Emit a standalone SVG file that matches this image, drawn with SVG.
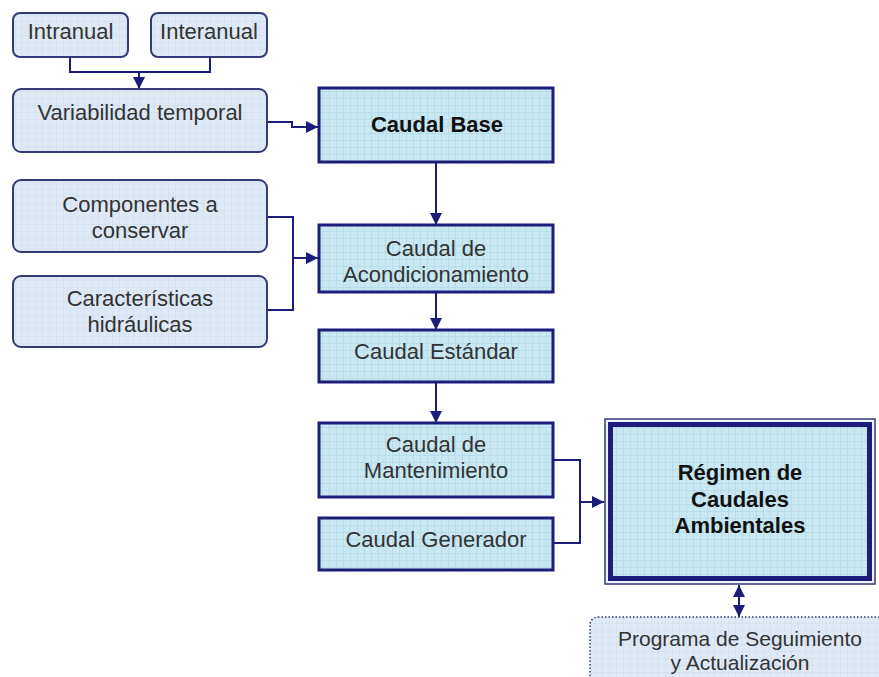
<svg xmlns="http://www.w3.org/2000/svg" width="879" height="677" viewBox="0 0 879 677">
<defs>
<pattern id="grid" width="7" height="7" patternUnits="userSpaceOnUse">
<rect width="7" height="7" fill="#c9e8f1"/>
<path d="M0,0.5 H7 M0.5,0 V7" stroke="#b3dbe7" stroke-width="0.8" fill="none"/>
</pattern>
<pattern id="gridSoft" width="7" height="7" patternUnits="userSpaceOnUse">
<rect width="7" height="7" fill="#dfe9f6"/>
<path d="M0,0.5 H7 M0.5,0 V7" stroke="#d3e0ef" stroke-width="0.8" fill="none"/>
</pattern>
<marker id="arr" viewBox="0 0 12 12" markerWidth="12" markerHeight="12" refX="12" refY="6" markerUnits="userSpaceOnUse" orient="auto-start-reverse">
<path d="M0,0 L12,6 L0,12 z" fill="#1c1c7c"/>
</marker>
</defs>
<style>
.rb{fill:url(#gridSoft);stroke:#343a78;stroke-width:2}
.sq{fill:url(#grid);stroke:#1c1c7c;stroke-width:3}
.t{font-family:"Liberation Sans",Arial,sans-serif;font-size:22px;fill:#333;text-anchor:middle}
.b{font-family:"Liberation Sans",Arial,sans-serif;font-size:22px;font-weight:bold;fill:#111;text-anchor:middle}
.c{fill:none;stroke:#1c1c7c;stroke-width:2}
</style>
<g id="connectors">
<path class="c" d="M70,57 V72 H210 V57"/>
<path class="c" d="M139,72 V89" marker-end="url(#arr)"/>
<path class="c" d="M267,122 H292 V127 H318" marker-end="url(#arr)"/>
<path class="c" d="M436,162 V225" marker-end="url(#arr)"/>
<path class="c" d="M267,217 H293 V310 H267"/>
<path class="c" d="M293,258 H318" marker-end="url(#arr)"/>
<path class="c" d="M436,292 V330" marker-end="url(#arr)"/>
<path class="c" d="M436,382 V423" marker-end="url(#arr)"/>
<path class="c" d="M553,460 H580 V543 H553"/>
<path class="c" d="M580,502 H604" marker-end="url(#arr)"/>
<path class="c" d="M739,585 V617" marker-start="url(#arr)" marker-end="url(#arr)"/>
</g>
<g id="intranual">
<rect class="rb" x="13" y="13" width="115" height="44" rx="7"/>
<text class="t" x="70.5" y="39">Intranual</text>
</g>
<g id="interanual">
<rect class="rb" x="151" y="13" width="116" height="44" rx="7"/>
<text class="t" x="209" y="39">Interanual</text>
</g>
<g id="variabilidad">
<rect class="rb" x="13" y="89" width="254" height="63" rx="8"/>
<text class="t" x="140" y="120">Variabilidad temporal</text>
</g>
<g id="caudal-base">
<rect class="sq" x="319" y="88" width="234" height="74"/>
<text class="b" x="437" y="132">Caudal Base</text>
</g>
<g id="componentes">
<rect class="rb" x="13" y="180" width="254" height="72" rx="8"/>
<text class="t" x="140" y="212">Componentes a</text>
<text class="t" x="140" y="238">conservar</text>
</g>
<g id="caracteristicas">
<rect class="rb" x="13" y="276" width="254" height="71" rx="8"/>
<text class="t" x="140" y="306">Características</text>
<text class="t" x="140" y="332">hidráulicas</text>
</g>
<g id="acondicionamiento">
<rect class="sq" x="319" y="225" width="234" height="67"/>
<text class="t" x="436" y="256">Caudal de</text>
<text class="t" x="436" y="282">Acondicionamiento</text>
</g>
<g id="estandar">
<rect class="sq" x="319" y="330" width="234" height="52"/>
<text class="t" x="436" y="359">Caudal Estándar</text>
</g>
<g id="mantenimiento">
<rect class="sq" x="319" y="423" width="234" height="74"/>
<text class="t" x="436" y="452">Caudal de</text>
<text class="t" x="436" y="478">Mantenimiento</text>
</g>
<g id="generador">
<rect class="sq" x="319" y="518" width="234" height="52"/>
<text class="t" x="436" y="547">Caudal Generador</text>
</g>
<g id="regimen">
<rect x="605" y="419" width="270" height="165" fill="#eef3fa" stroke="#343a78" stroke-width="1.5"/>
<rect x="610.5" y="424.5" width="259" height="154" fill="url(#grid)" stroke="#1c1c7c" stroke-width="5"/>
<text class="b" x="740" y="480">Régimen de</text>
<text class="b" x="740" y="507">Caudales</text>
<text class="b" x="740" y="533">Ambientales</text>
</g>
<g id="programa">
<rect x="590" y="617" width="300" height="80" rx="8" fill="url(#gridSoft)" stroke="#343a78" stroke-width="1.5" stroke-dasharray="1.5,2"/>
<text class="t" x="740" y="646" style="font-size:21px">Programa de Seguimiento</text>
<text class="t" x="740" y="670" style="font-size:21px">y Actualización</text>
</g>
</svg>
